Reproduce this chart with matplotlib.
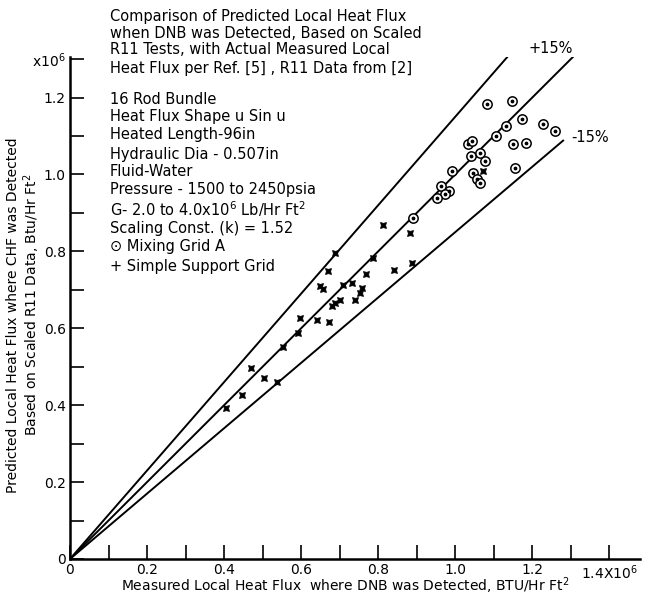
import numpy as np
import matplotlib
matplotlib.use("Agg")
import matplotlib.pyplot as plt

plt.rcParams['font.family'] = ['DejaVu Sans']

# Mixing Grid A (measured, predicted), x10^6
grid_a_x = [1.083, 1.148, 1.174, 1.229, 1.260, 1.132, 1.106, 1.151, 1.184, 1.034,
            1.044, 1.042, 1.065, 1.078, 1.156, 0.992, 1.047, 1.057, 1.065, 0.964,
            0.984, 0.974, 0.953, 0.891]
grid_a_y = [1.184, 1.192, 1.145, 1.132, 1.112, 1.125, 1.099, 1.078, 1.083, 1.078,
            1.088, 1.049, 1.057, 1.036, 1.018, 1.008, 1.003, 0.987, 0.979, 0.969,
            0.958, 0.948, 0.940, 0.888]

# Simple Support Grid
support_x = [1.073, 0.813, 0.883, 0.888, 0.842, 0.688, 0.670, 0.649, 0.657, 0.709,
             0.732, 0.787, 0.769, 0.758, 0.753, 0.740, 0.688, 0.701, 0.681, 0.597,
             0.642, 0.673, 0.592, 0.553, 0.470, 0.504, 0.538, 0.447, 0.405]
support_y = [1.010, 0.868, 0.847, 0.771, 0.751, 0.795, 0.748, 0.709, 0.701, 0.712,
             0.719, 0.784, 0.740, 0.704, 0.691, 0.673, 0.665, 0.673, 0.657, 0.626,
             0.621, 0.616, 0.587, 0.551, 0.496, 0.470, 0.460, 0.426, 0.392]

# reference lines: (slope, end x)
line_slopes = [1.0, 1.15, 0.85]
line_ends = [1.35, 1.135, 1.28]

notes = ["Comparison of Predicted Local Heat Flux",
         "when DNB was Detected, Based on Scaled",
         "R11 Tests, with Actual Measured Local",
         "Heat Flux per Ref. [5] , R11 Data from [2]",
         "16 Rod Bundle",
         "Heat Flux Shape u Sin u",
         "Heated Length-96in",
         "Hydraulic Dia - 0.507in",
         "Fluid-Water",
         "Pressure - 1500 to 2450psia",
         r"G- 2.0 to 4.0x10$^6$ Lb/Hr Ft$^2$",
         "Scaling Const. (k) = 1.52",
         "\u2299 Mixing Grid A",
         "+ Simple Support Grid"]

fig = plt.figure(figsize=(6.45, 5.96), dpi=100)
ax = fig.add_axes([0.1085, 0.0621, 0.884, 0.842])

for s, xe in zip(line_slopes, line_ends):
    xs = np.array([0, xe])
    ax.plot(xs, s * xs, color='black', lw=1.4, zorder=2)

ax.scatter(support_x, support_y, marker=(4, 1, 45), s=36, color='black', lw=0.6, zorder=3)
ax.scatter(grid_a_x, grid_a_y, marker='o', s=45, facecolor='white', edgecolor='black', lw=1.1, zorder=4)
ax.scatter(grid_a_x, grid_a_y, marker='o', s=3, color='black', zorder=5)

ax.set_xlim(0, 1.48)
ax.set_ylim(0, 1.305)
for side in ['top', 'right']:
    ax.spines[side].set_visible(False)
for side in ['left', 'bottom']:
    ax.spines[side].set_linewidth(1.8)

ax.set_xticks(np.arange(0, 1.41, 0.1))
ax.set_xticklabels(['0', '', '0.2', '', '0.4', '', '0.6', '', '0.8', '', '1.0', '', '1.2', '',
                    r'1.4X10$^6$'])
ax.set_yticks(np.arange(0, 1.31, 0.1))
ax.set_yticklabels(['0', '', '0.2', '', '0.4', '', '0.6', '', '0.8', '', '1.0', '', '1.2',
                    r'x10$^6$'])
ax.tick_params(direction='in', length=10, width=1.2, labelsize=10, pad=3)

fig.text(345 / 645, 1 - 586 / 596,
         r"Measured Local Heat Flux  where DNB was Detected, BTU/Hr Ft$^2$",
         fontsize=10, ha='center', va='center')
fig.text(13 / 645, 1 - 315 / 596, "Predicted Local Heat Flux where CHF was Detected",
         fontsize=10, rotation=90, ha='center', va='center')
fig.text(32 / 645, 1 - 305 / 596, r"Based on Scaled R11 Data, Btu/Hr Ft$^2$",
         fontsize=10, rotation=90, ha='center', va='center')

ax.text(1.19, 1.315, "+15%", fontsize=10.5, clip_on=False)
ax.text(1.30, 1.085, "-15%", fontsize=10.5)

ys = [16, 33, 50, 68, 99, 116, 135, 154, 172, 190, 209, 228, 247, 266]
for t, yp in zip(notes, ys):
    fig.text(110 / 645, 1 - yp / 596, t, fontsize=10.5, va='center', ha='left')

fig.savefig("out.png", dpi=100)
